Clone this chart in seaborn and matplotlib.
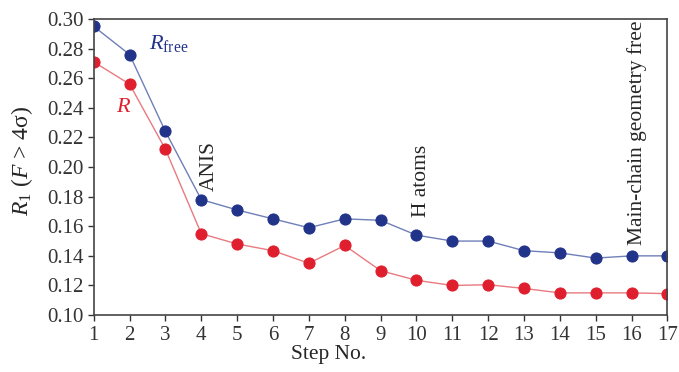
import pandas as pd
import seaborn as sns
import matplotlib.pyplot as plt

steps = list(range(1, 18))
r_free = [0.295, 0.276, 0.224, 0.178, 0.171, 0.165, 0.159, 0.165, 0.164,
          0.154, 0.150, 0.150, 0.1435, 0.142, 0.1385, 0.140, 0.140]
r_work = [0.271, 0.256, 0.212, 0.155, 0.148, 0.1435, 0.135, 0.147, 0.130,
          0.1235, 0.120, 0.1205, 0.118, 0.115, 0.115, 0.115, 0.1145]
yticks = [0.10, 0.12, 0.14, 0.16, 0.18, 0.20, 0.22, 0.24, 0.26, 0.28, 0.30]

sns.set_style("ticks")
plt.rcParams['font.family'] = ['Liberation Serif', 'DejaVu Serif']
plt.rcParams['mathtext.fontset'] = 'custom'
plt.rcParams['mathtext.rm'] = 'Liberation Serif'
plt.rcParams['mathtext.it'] = 'Liberation Serif:italic'

df = pd.DataFrame({"step": steps * 2,
                   "R1": r_free + r_work,
                   "series": ["Rfree"] * 17 + ["R"] * 17})

blue = "#22348a"
red = "#e01f2e"

fig, ax = plt.subplots(figsize=(6.79, 3.72), dpi=100)
fig.subplots_adjust(left=0.138, right=0.983, top=0.949, bottom=0.153)

for name, mc, lc in [("Rfree", blue, "#6f7fb8"), ("R", red, "#e87a80")]:
    sns.lineplot(data=df[df.series == name], x="step", y="R1", ax=ax,
                 color=lc, linewidth=1.0, marker="o", markersize=8,
                 markerfacecolor=mc, markeredgecolor=mc)

ax.set_xlim(1, 17)
ax.set_ylim(0.10, 0.30)
ax.set_xticks(steps)
ax.set_yticks(yticks)
ax.set_yticklabels([f"{v:.2f}" for v in yticks])
ax.tick_params(labelsize=15, colors="#333333", length=4, width=1)
ax.tick_params(axis='x', pad=4)
ax.tick_params(axis='y', pad=3)
for s in ax.spines.values():
    s.set_color("#444444")
    s.set_linewidth(1.2)
    s.set_visible(True)

ax.set_xlabel("Step No.", fontsize=15.5)
ax.xaxis.set_label_coords(0.41, -0.1)
ax.set_ylabel(r"$R_1$ ($F$ > 4σ)", fontsize=17)
ax.yaxis.set_label_coords(-0.103, 0.52)

ax.text(2.55, 0.280, r"$R_{\rm free}$", color=blue, fontsize=16)
ax.text(1.62, 0.237, r"$R$", color=red, fontsize=16)
ax.text(4.22, 0.184, "ANIS", rotation=90, fontsize=15.5, ha="center", va="bottom")
ax.text(10.15, 0.166, "H atoms", rotation=90, fontsize=15.5, ha="center", va="bottom")
ax.text(16.15, 0.147, "Main-chain geometry free", rotation=90, fontsize=15.5,
        ha="center", va="bottom")

fig.savefig("out.png", dpi=100)
